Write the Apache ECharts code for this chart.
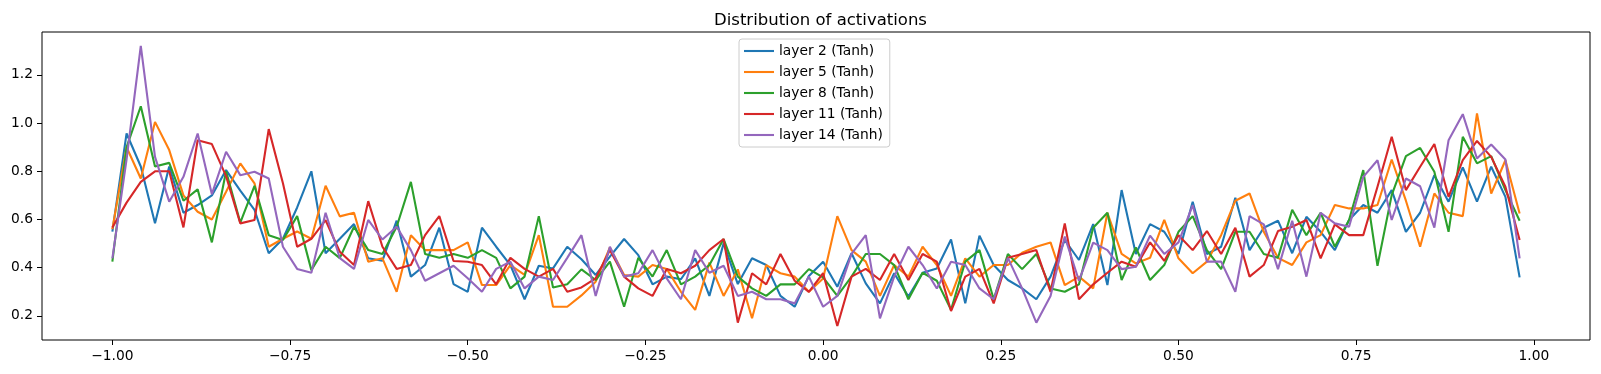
<!DOCTYPE html>
<html>
<head>
<meta charset="utf-8">
<script src="https://cdn.jsdelivr.net/npm/echarts@6/dist/echarts.min.js"></script>
<style>
html,body{margin:0;padding:0;background:#fff;}
#chart{width:1601px;height:374px;}
</style>
</head>
<body>
<div id="chart"></div>
<script>
const xs = [-1.00,-0.98,-0.96,-0.94,-0.92,-0.90,-0.88,-0.86,-0.84,-0.82,-0.80,-0.78,-0.76,-0.74,-0.72,-0.70,-0.68,-0.66,-0.64,-0.62,
-0.60,-0.58,-0.56,-0.54,-0.52,-0.50,-0.48,-0.46,-0.44,-0.42,-0.40,-0.38,-0.36,-0.34,-0.32,-0.30,-0.28,-0.26,-0.24,-0.22,
-0.20,-0.18,-0.16,-0.14,-0.12,-0.10,-0.08,-0.06,-0.04,-0.02,0.00,0.02,0.04,0.06,0.08,0.10,0.12,0.14,0.16,0.18,
0.20,0.22,0.24,0.26,0.28,0.30,0.32,0.34,0.36,0.38,0.40,0.42,0.44,0.46,0.48,0.50,0.52,0.54,0.56,0.58,
0.60,0.62,0.64,0.66,0.68,0.70,0.72,0.74,0.76,0.78,0.80,0.82,0.84,0.86,0.88,0.90,0.92,0.94,0.96,0.98];

const layer2 = [0.55,0.957,0.82,0.584,0.82,0.628,0.66,0.70,0.805,0.72,0.64,0.46,0.52,0.65,0.80,0.46,0.52,
0.581,0.439,0.429,0.595,0.363,0.411,0.566,0.332,0.30,0.566,0.487,0.411,0.269,0.408,0.397,0.487,0.435,
0.37,0.446,0.519,0.452,0.331,0.363,0.352,0.439,0.283,0.501,0.332,0.439,0.411,0.283,0.238,0.366,0.425,
0.321,0.46,0.335,0.252,0.377,0.28,0.379,0.397,0.517,0.252,0.533,0.411,0.349,0.314,0.269,0.363,
0.515,0.432,0.581,0.328,0.722,0.457,0.581,0.549,0.457,0.674,0.457,0.487,0.69,0.473,0.566,0.595,0.46,
0.611,0.549,0.473,0.598,0.66,0.628,0.722,0.549,0.628,0.784,0.674,0.816,0.674,0.819,0.694,0.36];

const layer5 = [0.56,0.90,0.77,1.005,0.888,0.70,0.632,0.60,0.715,0.833,0.75,0.487,0.52,0.55,0.52,0.74,0.613,
0.628,0.425,0.439,0.30,0.535,0.473,0.473,0.473,0.505,0.328,0.328,0.411,0.37,0.535,0.238,0.238,0.285,
0.342,0.484,0.37,0.363,0.411,0.395,0.30,0.225,0.421,0.283,0.393,0.19,0.411,0.377,0.363,0.30,0.355,
0.614,0.473,0.425,0.283,0.411,0.363,0.487,0.411,0.283,0.439,0.363,0.411,0.411,0.462,0.487,0.505,
0.328,0.363,0.314,0.628,0.457,0.418,0.441,0.598,0.439,0.377,0.425,0.535,0.678,0.708,0.549,0.441,0.411,
0.505,0.535,0.66,0.646,0.646,0.66,0.849,0.678,0.487,0.708,0.628,0.614,1.04,0.708,0.846,0.625];

const layer8 = [0.425,0.90,1.07,0.82,0.835,0.678,0.725,0.505,0.80,0.587,0.74,0.535,0.515,0.614,0.39,0.487,0.44,
0.57,0.473,0.457,0.57,0.756,0.457,0.441,0.457,0.441,0.473,0.441,0.314,0.363,0.614,0.318,0.331,0.393,
0.349,0.425,0.238,0.441,0.363,0.473,0.331,0.363,0.411,0.519,0.363,0.314,0.283,0.331,0.331,0.394,0.36,
0.283,0.363,0.457,0.457,0.411,0.269,0.379,0.346,0.225,0.425,0.473,0.269,0.457,0.394,0.457,0.314,
0.30,0.331,0.566,0.628,0.349,0.484,0.349,0.411,0.549,0.614,0.473,0.394,0.549,0.549,0.457,0.441,0.64,
0.535,0.628,0.487,0.598,0.805,0.408,0.701,0.863,0.897,0.798,0.549,0.943,0.833,0.863,0.722,0.595];

const layer11 = [0.567,0.67,0.756,0.80,0.80,0.567,0.929,0.913,0.78,0.584,0.598,0.975,0.75,0.487,0.52,0.597,0.466,
0.411,0.676,0.487,0.395,0.411,0.535,0.614,0.428,0.425,0.411,0.331,0.441,0.395,0.363,0.395,0.30,0.318,
0.356,0.473,0.363,0.314,0.283,0.395,0.377,0.408,0.473,0.519,0.172,0.377,0.331,0.457,0.346,0.30,0.377,
0.158,0.363,0.395,0.349,0.457,0.349,0.457,0.425,0.22,0.363,0.395,0.252,0.441,0.457,0.473,0.30,
0.584,0.269,0.331,0.379,0.425,0.404,0.505,0.428,0.535,0.473,0.552,0.457,0.566,0.363,0.411,0.552,0.57,
0.598,0.439,0.58,0.535,0.535,0.736,0.943,0.722,0.819,0.913,0.694,0.846,0.926,0.86,0.736,0.515];

const layer14 = [0.439,0.85,1.32,0.86,0.674,0.777,0.957,0.705,0.881,0.784,0.798,0.77,0.487,0.395,0.379,0.628,0.44,
0.395,0.598,0.517,0.57,0.473,0.346,0.377,0.408,0.356,0.30,0.395,0.425,0.314,0.363,0.349,0.441,0.535,
0.283,0.487,0.363,0.377,0.473,0.356,0.269,0.473,0.379,0.408,0.283,0.30,0.269,0.269,0.252,0.363,0.238,
0.283,0.457,0.535,0.19,0.363,0.487,0.411,0.314,0.425,0.411,0.314,0.269,0.441,0.314,0.172,0.283,
0.529,0.346,0.504,0.473,0.394,0.404,0.533,0.457,0.505,0.66,0.425,0.425,0.30,0.614,0.58,0.394,0.595,
0.363,0.628,0.584,0.57,0.777,0.846,0.598,0.77,0.738,0.566,0.929,1.037,0.853,0.911,0.849,0.439];

const seriesNames = ['layer 2 (Tanh)','layer 5 (Tanh)','layer 8 (Tanh)','layer 11 (Tanh)','layer 14 (Tanh)'];
const seriesValues = [layer2, layer5, layer8, layer11, layer14];
const colors = ['#1f77b4','#ff7f0e','#2ca02c','#d62728','#9467bd'];
const xTicks = [-1.00,-0.75,-0.50,-0.25,0.00,0.25,0.50,0.75,1.00];
const yTicks = [0.2,0.4,0.6,0.8,1.0,1.2];

const FONT = 'DejaVu Sans';
const fmtMinus = (s) => s.replace('-', '\u2212');

const chart = echarts.init(document.getElementById('chart'), null, {renderer:'canvas'});
chart.setOption({
  animation: false,
  backgroundColor: '#fff',
  color: colors,
  title: {
    text: 'Distribution of activations',
    left: 709, top: 7,
    textStyle: {fontFamily: FONT, fontSize: 16.5, fontWeight: 'normal', color: '#000'}
  },
  legend: {
    orient: 'vertical',
    left: 739, top: 39,
    padding: [5, 7, 5, 5],
    icon: 'rect',
    itemWidth: 30, itemHeight: 2.1, itemGap: 7,
    backgroundColor: 'rgba(255,255,255,0.8)',
    borderColor: '#cccccc', borderWidth: 1, borderRadius: 3,
    textStyle: {fontFamily: FONT, fontSize: 13.8, color: '#000', lineHeight: 14},
    data: seriesNames
  },
  grid: {
    left: 42, right: 11, top: 32, bottom: 34,
    show: true, borderColor: '#000', borderWidth: 1, backgroundColor: 'transparent'
  },
  xAxis: {
    type: 'value', min: -1.099, max: 1.079,
    axisLine: {show: false, onZero: false},
    splitLine: {show: false},
    axisTick: {show: true, length: 5, customValues: xTicks, lineStyle: {color: '#000', width: 1}},
    axisLabel: {customValues: xTicks, margin: 9, color: '#000', fontFamily: FONT, fontSize: 13.8,
      formatter: (v) => fmtMinus(v.toFixed(2))}
  },
  yAxis: {
    type: 'value', min: 0.1, max: 1.378,
    axisLine: {show: false, onZero: false},
    splitLine: {show: false},
    axisTick: {show: true, length: 5, customValues: yTicks, lineStyle: {color: '#000', width: 1}},
    axisLabel: {customValues: yTicks, margin: 9, color: '#000', fontFamily: FONT, fontSize: 13.8,
      formatter: (v) => fmtMinus(v.toFixed(1))}
  },
  series: seriesNames.map((name, k) => ({
    name: name,
    type: 'line',
    symbol: 'none',
    data: xs.map((x, i) => [x, seriesValues[k][i]]),
    lineStyle: {width: 2.1, color: colors[k]},
    itemStyle: {color: colors[k]}
  }))
});
</script>
</body>
</html>
